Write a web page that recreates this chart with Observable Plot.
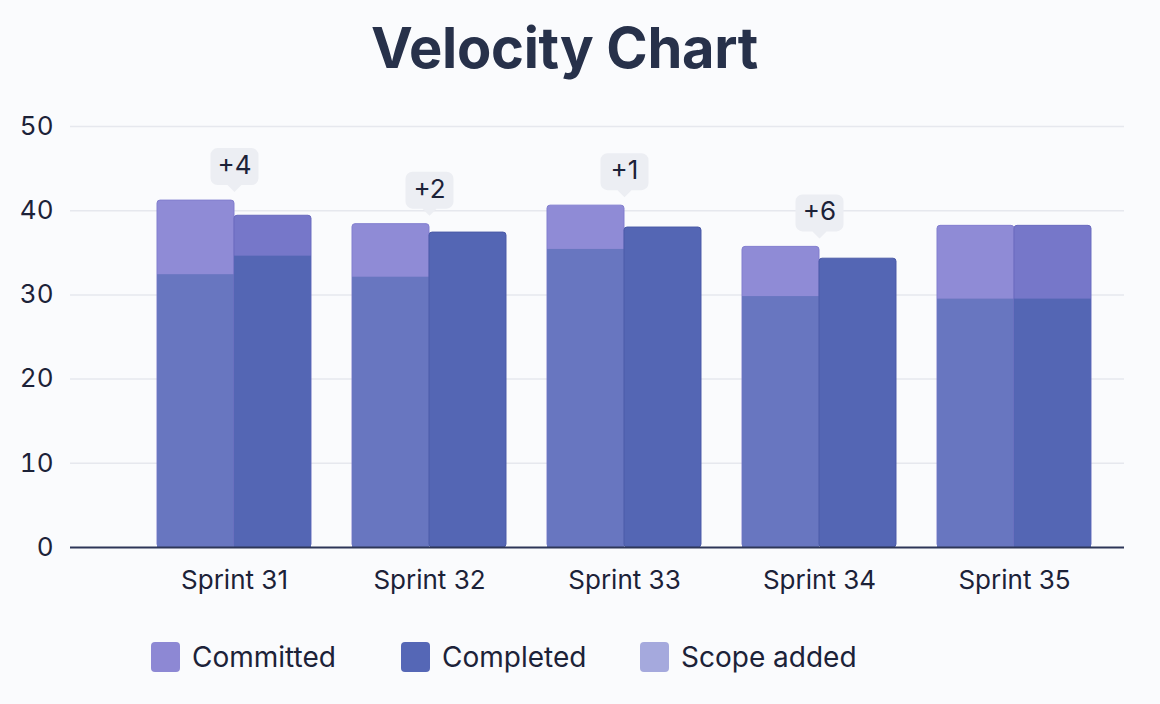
<!DOCTYPE html>
<html>
<head>
<meta charset="utf-8">
<script src="https://cdn.jsdelivr.net/npm/d3@7"></script>
<script src="https://cdn.jsdelivr.net/npm/@observablehq/plot@0.6"></script>
<style>
  html, body { margin: 0; padding: 0; background: #fafbfd; }
  body { width: 1160px; height: 704px; position: relative; overflow: hidden; font-family: Inter, "Noto Sans", sans-serif; }
  #title { position: absolute; left: 0; top: 0; width: 1129px; height: 100px; text-align: center;
           font-size: 56px; font-weight: 700; color: #27314a; line-height: 96px; letter-spacing: -0.3px; }
  #chart { position: absolute; left: 0; top: 100px; }
  #legend { position: absolute; left: 0; top: 642px; width: 1160px; height: 32px;
            font-size: 28px; color: #1c2238; }
  .item { position: absolute; top: 0; display: flex; align-items: center; height: 30px; }
  .sw { width: 29px; height: 30px; border-radius: 4px; margin-right: 12px; }
</style>
</head>
<body>
<div id="title">Velocity Chart</div>
<div id="chart"></div>
<div id="legend"></div>
<script>
const sprints = ["Sprint 31", "Sprint 32", "Sprint 33", "Sprint 34", "Sprint 35"];
const committedBase = [32.4, 32.1, 35.4, 29.8, 29.5];
const committedTotal = [41.2, 38.4, 40.6, 35.7, 38.2];
const completedBase = [34.6, 37.4, 38.0, 34.3, 29.5];
const completedTotal = [39.4, 37.4, 38.0, 34.3, 38.2];
const scopeLabels = ["+4", "+2", "+1", "+6", null];
const yTicks = [0, 10, 20, 30, 40, 50];
const legendNames = ["Committed", "Completed", "Scope added"];
const legendColors = ["#8d88d4", "#5567b6", "#a5a9dd"];
const legendLeft = [151, 401, 640];

const C_TOP = "#8f8bd6", C_BOT = "#6876c0", D_TOP = "#7677c9", D_BOT = "#5466b4";

const rows = sprints.map((s, i) => ({
  sprint: s,
  cBase: committedBase[i], cTotal: committedTotal[i],
  dBase: completedBase[i], dTotal: completedTotal[i],
  label: scopeLabels[i]
}));

const bubble = {
  draw(ctx) {
    const w = 48, h = 37, r = 7, x0 = -w / 2, y0 = -h / 2, x1 = w / 2, y1 = h / 2;
    ctx.moveTo(x0 + r, y0);
    ctx.lineTo(x1 - r, y0);
    ctx.arcTo(x1, y0, x1, y0 + r, r);
    ctx.lineTo(x1, y1 - r);
    ctx.arcTo(x1, y1, x1 - r, y1, r);
    ctx.lineTo(7, y1);
    ctx.lineTo(0, y1 + 7);
    ctx.lineTo(-7, y1);
    ctx.lineTo(x0 + r, y1);
    ctx.arcTo(x0, y1, x0, y1 - r, r);
    ctx.lineTo(x0, y0 + r);
    ctx.arcTo(x0, y0, x0 + r, y0, r);
    ctx.closePath();
  }
};

const half = 77;
const labeled = rows.filter(d => d.label);

const chart = Plot.plot({
  width: 1160,
  height: 500,
  marginTop: 26,
  marginBottom: 53,
  marginLeft: 70,
  marginRight: 36,
  style: { background: "transparent", fontFamily: "Inter, 'Noto Sans', sans-serif", fontSize: "26px", color: "#1c2238" },
  x: { type: "band", domain: sprints, paddingInner: 0.2103, paddingOuter: 0.3077, align: 0.725, round: false, label: null },
  y: { domain: [0, 50], label: null },
  marks: [
    Plot.ruleY(yTicks.filter(t => t > 0), { stroke: "#e6e8ee", strokeWidth: 1.5 }),
    Plot.axisY({ ticks: yTicks, tickSize: 0, tickPadding: 17, fontSize: 26, label: null, fill: "#1c2238" }),
    Plot.axisX({ tickSize: 0, tickPadding: 23, fontSize: 26, label: null, fill: "#1c2238" }),
    Plot.barY(rows, { x: "sprint", y: "cTotal", fill: C_TOP, rx: 3, insetRight: half,
      stroke: "#827ecf", strokeWidth: 1 }),
    Plot.barY(rows.filter(d => d.cBase < d.cTotal), { x: "sprint", y: "cBase", fill: C_BOT, insetRight: half }),
    Plot.barY(rows, { x: "sprint", y: "dTotal", fill: d => d.dBase < d.dTotal ? D_TOP : D_BOT, rx: 3, insetLeft: half,
      stroke: d => d.dBase < d.dTotal ? "#6a6bbf" : "#4a5aa8", strokeWidth: 1 }),
    Plot.barY(rows.filter(d => d.dBase < d.dTotal), { x: "sprint", y: "dBase", fill: D_BOT, insetLeft: half }),
    Plot.dot(labeled, { x: "sprint", y: "cTotal", dy: -34, symbol: bubble, fill: "#eceef3", stroke: "none", r: 3 }),
    Plot.text(labeled, { x: "sprint", y: "cTotal", dy: -35, text: "label", fontSize: 26, fill: "#1c2238" }),
    Plot.ruleY([0], { stroke: "#2d3658", strokeWidth: 2 })
  ]
});
document.getElementById("chart").appendChild(chart);

const legend = document.getElementById("legend");
legendNames.forEach((n, i) => {
  const it = document.createElement("div");
  it.className = "item";
  it.style.left = legendLeft[i] + "px";
  const sw = document.createElement("div");
  sw.className = "sw";
  sw.style.background = legendColors[i];
  const tx = document.createElement("span");
  tx.textContent = n;
  it.appendChild(sw);
  it.appendChild(tx);
  legend.appendChild(it);
});
</script>
</body>
</html>
